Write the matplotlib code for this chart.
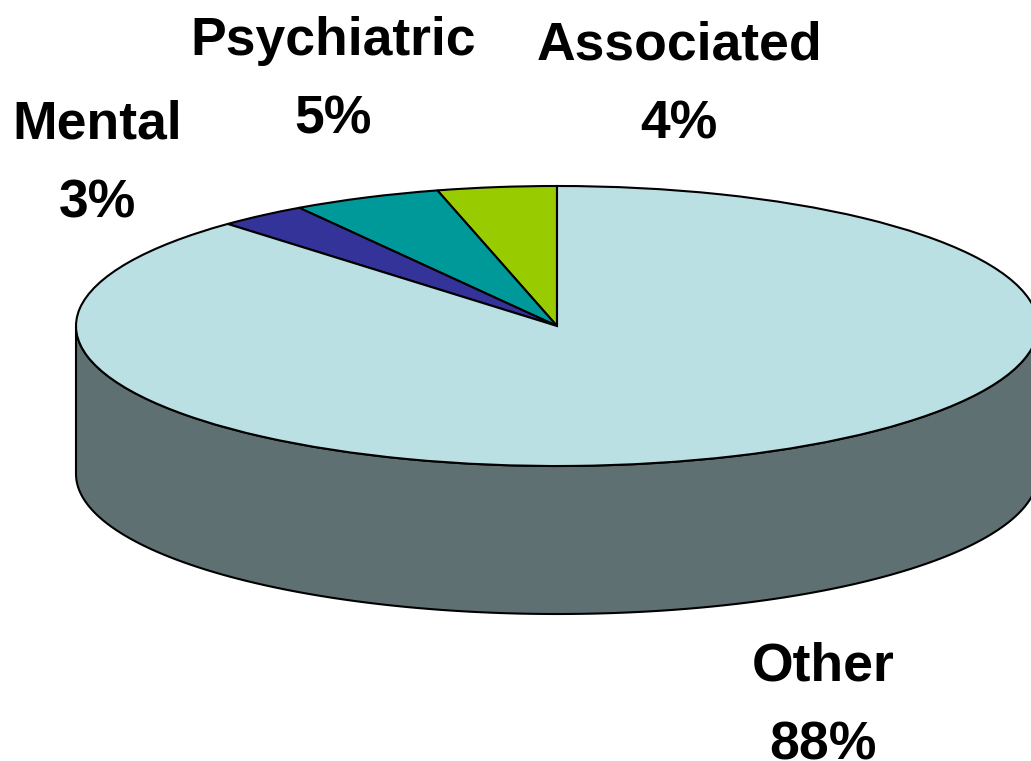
import matplotlib
matplotlib.use('Agg')
import matplotlib.pyplot as plt
import numpy as np

labels = ['Associated', 'Psychiatric', 'Mental', 'Other']
values = [4, 5, 3, 88]
colors = ['#99CC00', '#009999', '#333399', '#BAE0E3']

W, H = 1031, 761
# pie geometry in pixels
cx, cy = 557, 326
rx, ry = 481, 140
depth = 148

fig = plt.figure(figsize=(W / 100, H / 100), dpi=100)
ax = fig.add_axes([0, 0, 1, 1])

# side wall first, unit circle squashed by the axes limits
t = np.linspace(np.pi, 2 * np.pi, 200)
d = depth / ry
side_x = np.concatenate([np.cos(t), np.cos(t[::-1])])
side_y = np.concatenate([np.sin(t), np.sin(t[::-1]) - d])
ax.fill(side_x, side_y, facecolor='#5F7073', edgecolor='black', linewidth=1.5, joinstyle='round')

ax.pie(values, colors=colors, startangle=90, counterclock=True, radius=1,
       wedgeprops={'edgecolor': 'black', 'linewidth': 1.5})

ax.set_aspect('auto')
ax.set_xlim((0 - cx) / rx, (W - cx) / rx)
ax.set_ylim((cy - H) / ry, cy / ry)
ax.axis('off')

# label positions in pixels (centre of the text block)
label_pos = {'Associated': (679, 85), 'Psychiatric': (333, 80), 'Mental': (97, 164), 'Other': (823, 706)}
for name, val in zip(labels, values):
    x, y = label_pos[name]
    fig.text(x / W, 1 - y / H, '%s\n%d%%' % (name, val), ha='center', va='center',
             fontsize=38.5, fontweight='bold', family='Liberation Sans', color='black', linespacing=1.73)

fig.savefig('out.png', dpi=100)
